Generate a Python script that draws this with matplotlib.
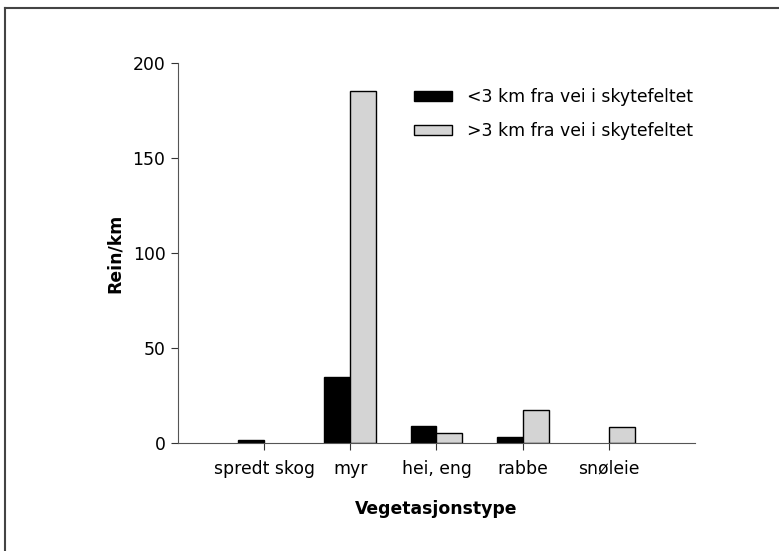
import numpy as np
import matplotlib.pyplot as plt
from matplotlib.lines import Line2D
from matplotlib.patches import Patch

categories = ['spredt skog', 'myr', 'hei, eng', 'rabbe', 'snøleie']
near_road = [1.5, 35, 9, 3.3, 0]
far_road = [0, 185, 5.2, 17.4, 8.6]
series_labels = ['<3 km fra vei i skytefeltet', '>3 km fra vei i skytefeltet']

plt.rcParams['font.family'] = ['DejaVu Sans']
fs = 12.4

fig = plt.figure(figsize=(7.79, 5.51), dpi=100)
ax = fig.add_axes([178 / 779, 1 - 443 / 551, 517 / 779, 380 / 551])

x = np.arange(len(categories))
w = 0.3
# no outline for zero-height bars
lw_near = [1 if v > 0 else 0 for v in near_road]
lw_far = [1 if v > 0 else 0 for v in far_road]
ax.bar(x - w / 2, near_road, w, color='black', edgecolor='black', linewidth=lw_near)
ax.bar(x + w / 2, far_road, w, color='#d4d4d4', edgecolor='black', linewidth=lw_far)

ax.set_xlim(-1, 5)
ax.set_ylim(0, 200)
ax.set_yticks([0, 50, 100, 150, 200])
ax.set_xticks(x)
ax.set_xticklabels(categories)
for s in ['top', 'right']:
    ax.spines[s].set_visible(False)
for s in ['left', 'bottom']:
    ax.spines[s].set_color('#555555')
ax.tick_params(axis='both', length=5, color='#333333', labelsize=fs, pad=4)
ax.tick_params(axis='x', pad=7)

ax.set_ylabel('Rein/km', fontweight='bold', labelpad=6, fontsize=fs)
ax.set_xlabel('Vegetasjonstype', fontweight='bold', labelpad=16, fontsize=fs)

handles = [Patch(facecolor='black', edgecolor='black', linewidth=1),
           Patch(facecolor='#d4d4d4', edgecolor='black', linewidth=1)]
ax.legend(handles, series_labels, loc='upper left', bbox_to_anchor=((414 - 178) / 517, (443 - 88) / 380),
          frameon=False, handlelength=2.2, handleheight=0.5, labelspacing=0.95,
          borderpad=0, borderaxespad=0, handletextpad=0.9, fontsize=fs)

# outer frame (left and top edges only visible)
fig.add_artist(Line2D([5 / 779, 5 / 779], [0, 1 - 8 / 551], color='#444444', lw=1.5))
fig.add_artist(Line2D([5 / 779, 1], [1 - 8 / 551, 1 - 8 / 551], color='#444444', lw=1.5))

fig.savefig('out.png', dpi=100)
